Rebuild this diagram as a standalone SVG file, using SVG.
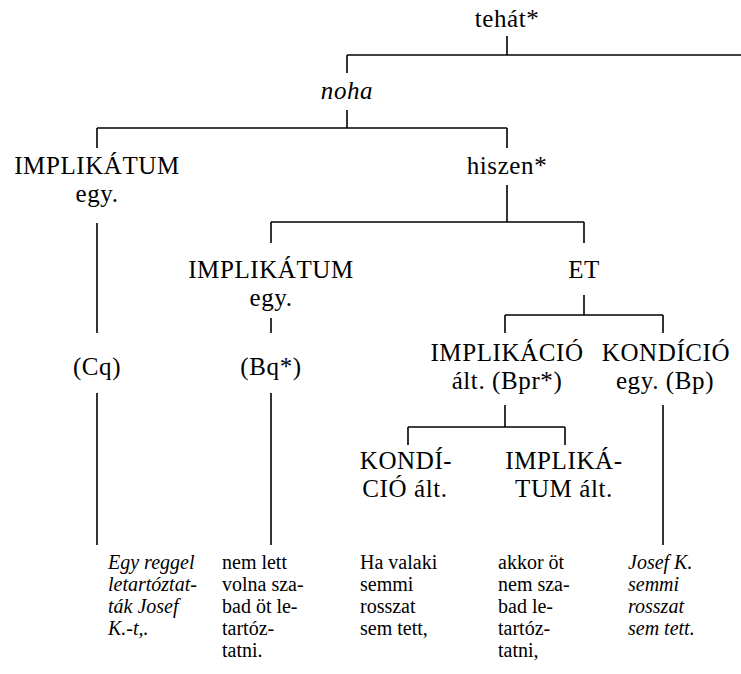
<svg xmlns="http://www.w3.org/2000/svg" width="741" height="674" viewBox="0 0 741 674">
<style>
.l{font-family:"Liberation Serif","Times New Roman",serif;font-size:25px;letter-spacing:0.6px;fill:#000;text-anchor:middle}
.i{font-style:italic}
.t{font-family:"Liberation Serif","Times New Roman",serif;font-size:20px;fill:#000}
.c line{stroke:#000;stroke-width:1.6}
</style>
<rect width="741" height="674" fill="#fff"/>
<g class="c" id="connectors">
<line x1="507" y1="36" x2="507" y2="55"/>
<line x1="347" y1="55" x2="741" y2="55"/>
<line x1="347" y1="55" x2="347" y2="73"/>
<line x1="347" y1="110" x2="347" y2="128"/>
<line x1="97" y1="128" x2="507" y2="128"/>
<line x1="97" y1="128" x2="97" y2="148"/>
<line x1="507" y1="128" x2="507" y2="148"/>
<line x1="97" y1="223" x2="97" y2="333"/>
<line x1="97" y1="393" x2="97" y2="545"/>
<line x1="507" y1="185" x2="507" y2="222"/>
<line x1="271" y1="222" x2="584" y2="222"/>
<line x1="271" y1="222" x2="271" y2="243"/>
<line x1="584" y1="222" x2="584" y2="243"/>
<line x1="271" y1="318" x2="271" y2="333"/>
<line x1="271" y1="393" x2="271" y2="545"/>
<line x1="584" y1="295" x2="584" y2="315"/>
<line x1="505" y1="315" x2="663" y2="315"/>
<line x1="505" y1="315" x2="505" y2="333"/>
<line x1="663" y1="315" x2="663" y2="333"/>
<line x1="505" y1="405" x2="505" y2="427"/>
<line x1="408" y1="427" x2="565" y2="427"/>
<line x1="408" y1="427" x2="408" y2="445"/>
<line x1="565" y1="427" x2="565" y2="445"/>
<line x1="663" y1="405" x2="663" y2="545"/>
</g>
<g id="tehat"><text class="l" x="507" y="27">tehát*</text></g>
<g id="noha"><text class="l i" x="347" y="99">noha</text></g>
<g id="implikatum1"><text class="l" x="97" y="174">IMPLIKÁTUM</text><text class="l" x="97" y="202">egy.</text></g>
<g id="hiszen"><text class="l" x="507" y="174">hiszen*</text></g>
<g id="implikatum2"><text class="l" x="271" y="278">IMPLIKÁTUM</text><text class="l" x="271" y="306">egy.</text></g>
<g id="et"><text class="l" x="584" y="278">ET</text></g>
<g id="cq"><text class="l" x="97" y="375">(Cq)</text></g>
<g id="bq"><text class="l" x="271" y="375">(Bq*)</text></g>
<g id="implikacio"><text class="l" x="507" y="361">IMPLIKÁCIÓ</text><text class="l" x="507" y="389">ált. (Bpr*)</text></g>
<g id="kondicio"><text class="l" x="666" y="361">KONDÍCIÓ</text><text class="l" x="665" y="389">egy. (Bp)</text></g>
<g id="kondicio-alt"><text class="l" x="406" y="469">KONDÍ-</text><text class="l" x="405" y="497">CIÓ ált.</text></g>
<g id="implikatum-alt"><text class="l" x="564" y="469">IMPLIKÁ-</text><text class="l" x="564" y="497">TUM ált.</text></g>
<g id="text-cq"><text class="t i" x="108" y="569"><tspan x="108">Egy reggel</tspan><tspan x="108" dy="22">letartóztat-</tspan><tspan x="108" dy="22">ták Josef</tspan><tspan x="108" dy="22">K.-t,.</tspan></text></g>
<g id="text-bq"><text class="t" x="222" y="569"><tspan x="222">nem lett</tspan><tspan x="222" dy="22">volna sza-</tspan><tspan x="222" dy="22">bad öt le-</tspan><tspan x="222" dy="22">tartóz-</tspan><tspan x="222" dy="22">tatni.</tspan></text></g>
<g id="text-kond"><text class="t" x="360" y="569"><tspan x="360">Ha valaki</tspan><tspan x="360" dy="22">semmi</tspan><tspan x="360" dy="22">rosszat</tspan><tspan x="360" dy="22">sem tett,</tspan></text></g>
<g id="text-impl"><text class="t" x="498" y="569"><tspan x="498">akkor öt</tspan><tspan x="498" dy="22">nem sza-</tspan><tspan x="498" dy="22">bad le-</tspan><tspan x="498" dy="22">tartóz-</tspan><tspan x="498" dy="22">tatni,</tspan></text></g>
<g id="text-bp"><text class="t i" x="628" y="569"><tspan x="628">Josef K.</tspan><tspan x="628" dy="22">semmi</tspan><tspan x="628" dy="22">rosszat</tspan><tspan x="628" dy="22">sem tett.</tspan></text></g>
</svg>
